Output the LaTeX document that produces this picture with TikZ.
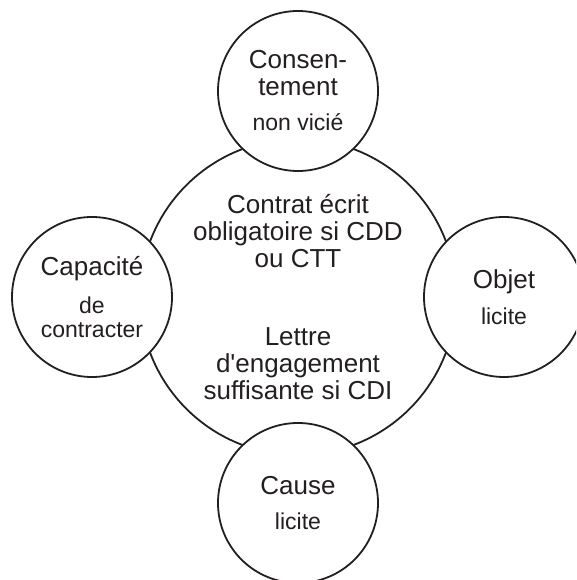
\documentclass[tikz,border=0pt]{standalone}
\usepackage{fontspec}
\setmainfont{Liberation Sans}[Ligatures=TeXOff]
\usepackage{tikz}
\definecolor{ink}{RGB}{35,31,32}
\newcommand{\subtxt}{\fontsize{23}{27}\selectfont}

\begin{document}
\begin{tikzpicture}[x=1pt, y=1pt,
    cond/.style={circle, draw=ink, line width=1.8pt, fill=white, inner sep=0pt,
                 minimum size=160pt, align=center, text=ink,
                 font=\fontsize{26}{27}\selectfont},
    core/.style={circle, draw=ink, line width=1.8pt, inner sep=0pt,
                 minimum size=316pt, align=center, text=ink,
                 font=\fontsize{26}{27}\selectfont}]
                    \useasboundingbox (0,0) rectangle (576,580);
                    \clip (0,0) rectangle (576,580);
                    % Nodes
                    \node[core] (contrat) at (298,283) {Contrat écrit\\obligatoire si CDD\\ou CTT\\[51pt]Lettre\\d'engagement\\suffisante si CDI};
                    \node[cond] (consent) at (298,489) {Consen-\\tement\\[8pt]{\subtxt non vicié}};
                    \node[cond] (capacite) at (92,283) {Capacité\\[11pt]{\subtxt de}\\[-3pt]{\subtxt contracter}};
                    \node[cond] (objet) at (504,283) {Objet\\[9pt]{\subtxt licite}};
                    \node[cond] (cause) at (298,77) {Cause\\[8pt]{\subtxt licite}};
                \end{tikzpicture}
\end{document}
